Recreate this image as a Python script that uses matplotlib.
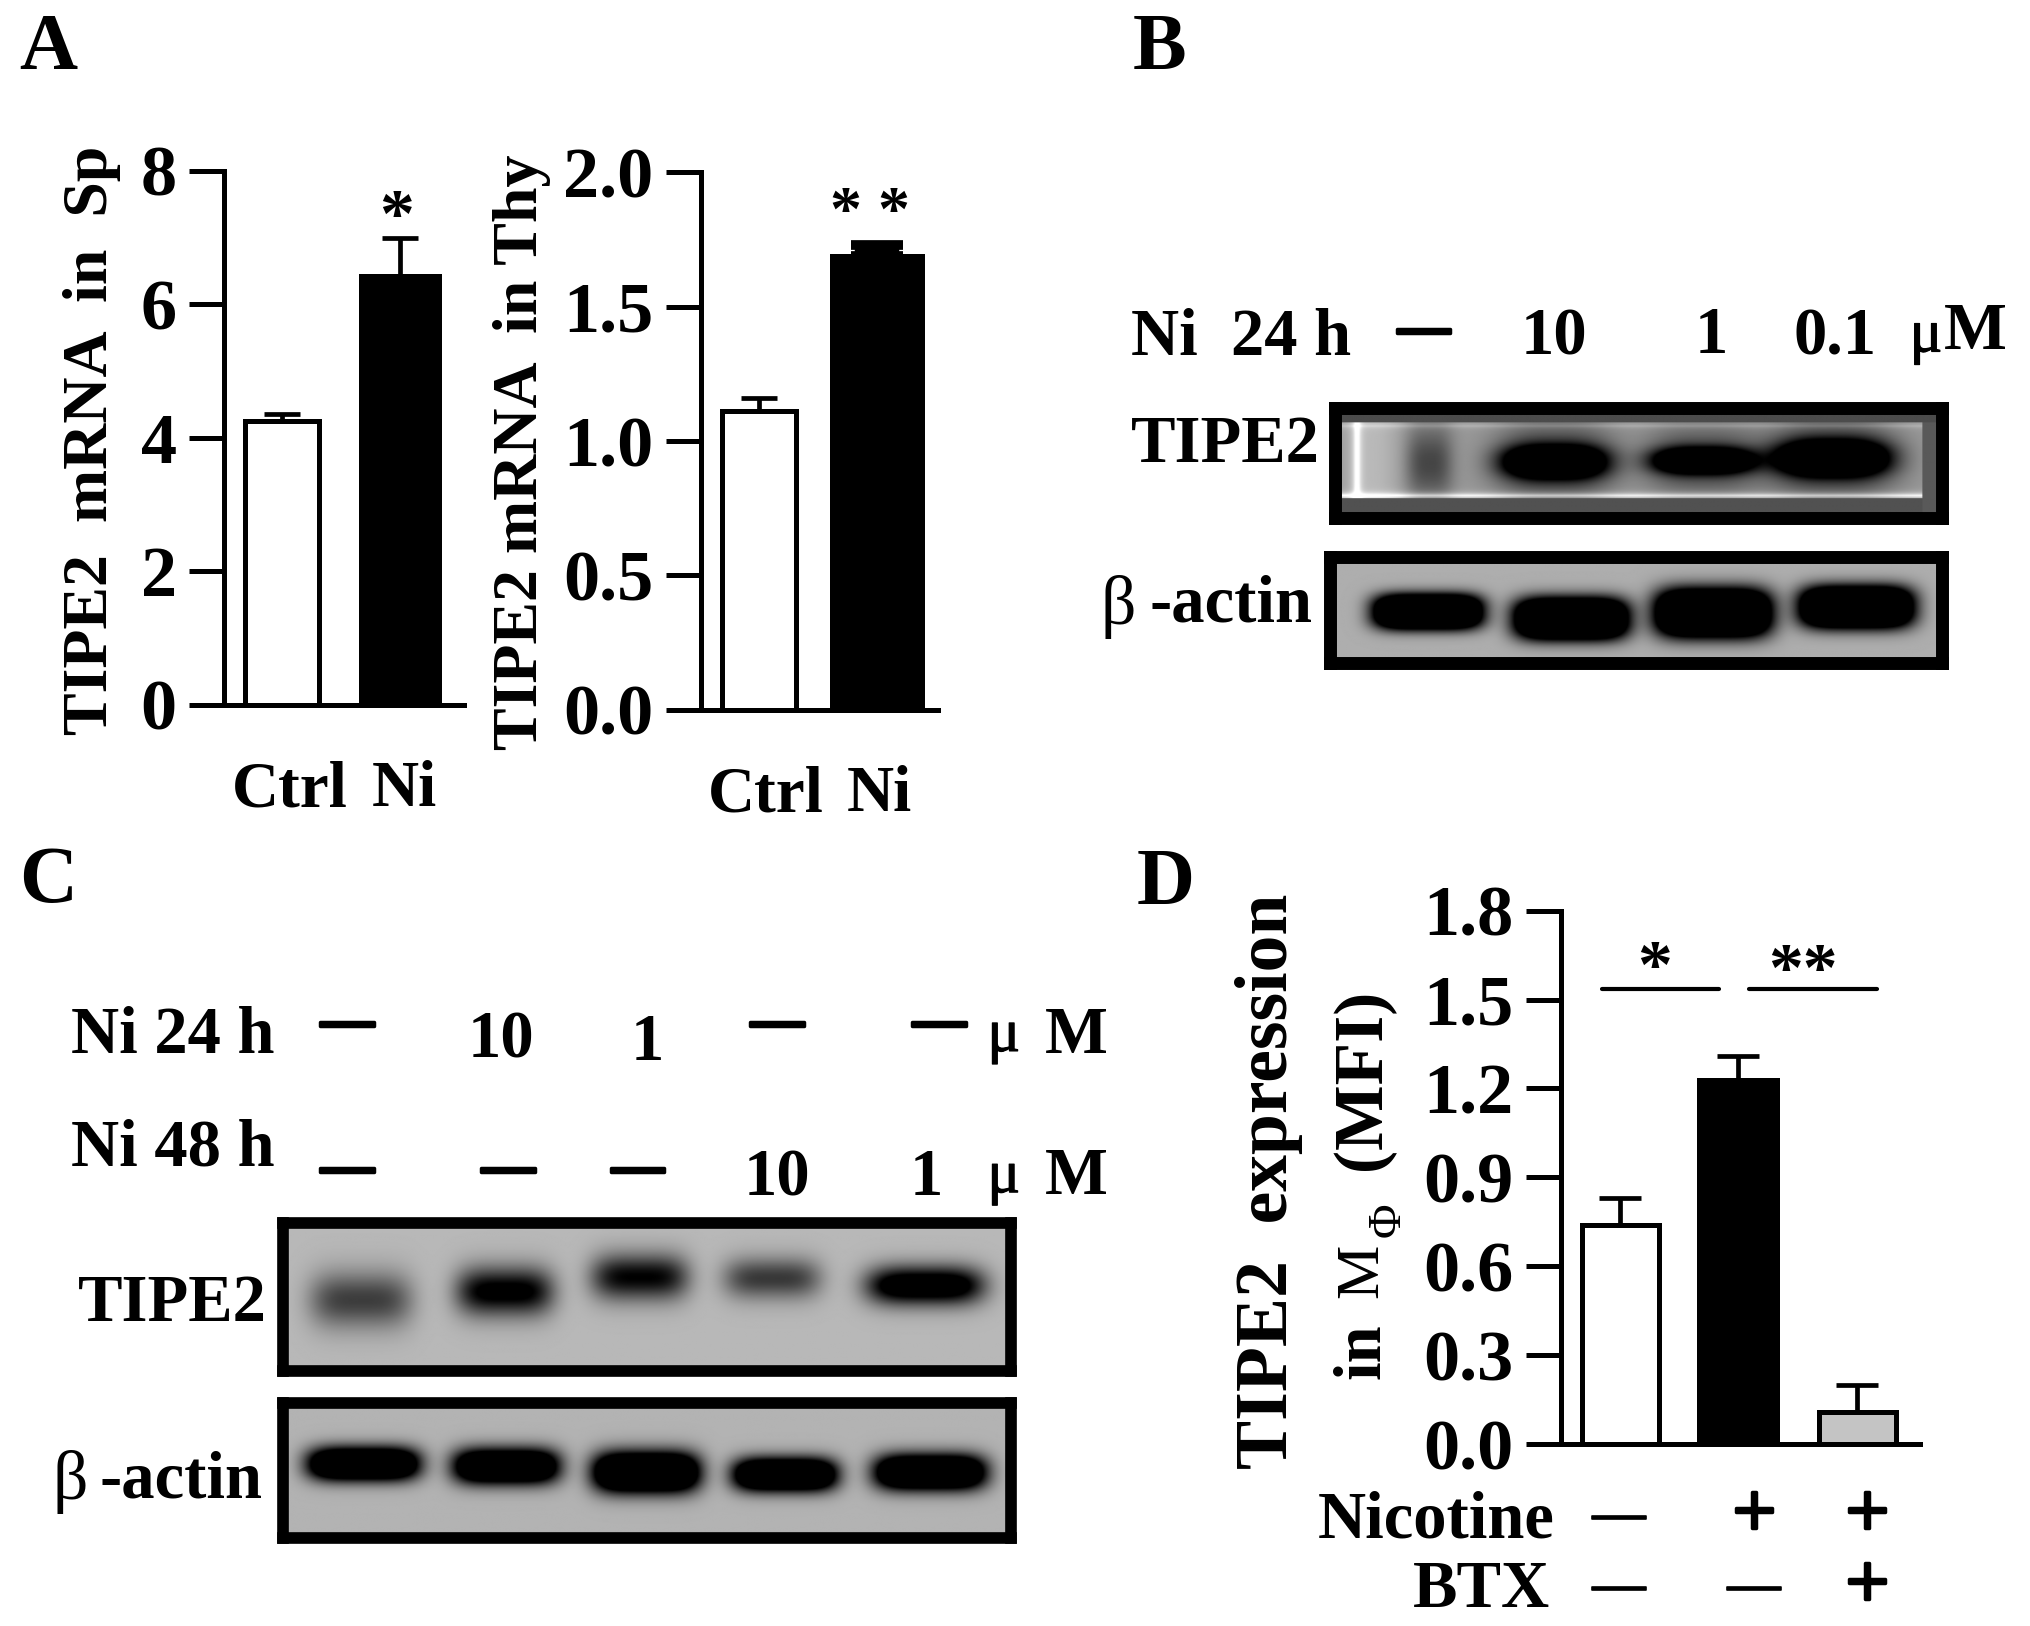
import numpy as np
import matplotlib
matplotlib.use("Agg")
import matplotlib.pyplot as plt
import matplotlib.patheffects as pe

plt.rcParams['font.family'] = ['Liberation Serif', 'DejaVu Serif']

# ---------- chart values ----------
SP_CATS = ['Ctrl', 'Ni']
SP_VALUES = [4.25, 6.42]
SP_ERRORS = [0.10, 0.58]
SP_TICKS = [0, 2, 4, 6, 8]
SP_TICK_LABELS = ['0', '2', '4', '6', '8']

THY_CATS = ['Ctrl', 'Ni']
THY_VALUES = [1.11, 1.69]
THY_ERRORS = [0.05, 0.04]
THY_TICKS = [0.0, 0.5, 1.0, 1.5, 2.0]
THY_TICK_LABELS = ['0.0', '0.5', '1.0', '1.5', '2.0']

MFI_VALUES = [0.74, 1.23, 0.11]
MFI_ERRORS = [0.09, 0.08, 0.09]
MFI_TICKS = [0.0, 0.3, 0.6, 0.9, 1.2, 1.5, 1.8]
MFI_TICK_LABELS = ['0.0', '0.3', '0.6', '0.9', '1.2', '1.5', '1.8']
NICOTINE_SIGNS = ['—', '+', '+']
BTX_SIGNS = ['—', '—', '+']

# band strengths of the blots, one per lane
B_TIPE2_STRENGTH = [0.22, 1.05, 1.00, 1.15]
B_ACTIN_STRENGTH = [1.8, 1.8, 1.8, 1.8]
C_TIPE2_STRENGTH = [0.48, 0.80, 0.72, 0.50, 1.00]
C_ACTIN_STRENGTH = [1.5, 1.4, 1.6, 1.5, 1.5]

# ---------- layout (pixels of the 1568-wide view) ----------
S = 2031 / 1568
W, H = 2031, 1626
fig = plt.figure(figsize=(W / 100, H / 100), dpi=100, facecolor='white')
PT = 72 / 100  # points per figure pixel


def rect(x0, y0, x1, y1):
    """Axes rectangle from view coordinates (y down)."""
    return [x0 * S / W, 1 - y1 * S / H, (x1 - x0) * S / W, (y1 - y0) * S / H]


def T(x, y, s, size=48, weight='bold', ha='center', va='center', rot=0, **kw):
    return fig.text(x * S / W, 1 - y * S / H, s, fontsize=size, fontweight=weight,
                    ha=ha, va=va, rotation=rot, rotation_mode='anchor', color='black', **kw)


def thick(t, lw):
    t.set_path_effects([pe.withStroke(linewidth=lw, foreground='black')])
    return t


def dash(x, y, size=38, lw=2.5):
    return thick(T(x, y, '—', size=size), lw)


def bar_panel(x_spine, x_end, y_top, y_bot, ylim, ticks, labels, centers, widths, values,
              errors, colors, caps, capthicks, elws):
    ax = fig.add_axes(rect(x_spine, y_top, x_end, y_bot))
    ax.set_xlim(x_spine, x_end)
    ax.set_ylim(*ylim)
    ax.patch.set_alpha(0)
    for s in ('top', 'right'):
        ax.spines[s].set_visible(False)
    for s in ('left', 'bottom'):
        ax.spines[s].set_linewidth(3.6)
    ax.set_yticks(ticks, labels)
    ax.tick_params(axis='y', length=25, width=3.6, pad=9, labelsize=52)
    for lab in ax.get_yticklabels():
        lab.set_fontweight('bold')
    for c, v, e, cap, ct, lw in zip(centers, values, errors, caps, capthicks, elws):
        ax.errorbar([c], [v], yerr=[[0], [e]], fmt='none', ecolor='black',
                    elinewidth=lw, capsize=cap, capthick=ct, zorder=2)
    ax.bar(centers, values, width=widths, color=colors, edgecolor='black', linewidth=3.6, zorder=3)
    return ax


# ---------- panel A ----------
ax1 = bar_panel(173, 358, 132, 544, (0, 8), SP_TICKS, SP_TICK_LABELS, [218, 309], [57, 60],
                SP_VALUES, SP_ERRORS, ['white', 'black'], [13, 13], [3.4, 3.4], [3.4, 3.4])
ax1.set_xticks([224, 312], SP_CATS)
ax2 = bar_panel(541, 724, 133, 548, (0, 2), THY_TICKS, THY_TICK_LABELS, [586, 677], [57, 69],
                THY_VALUES, THY_ERRORS, ['white', 'black'], [13, 19], [3.4, 7], [3.4, 32])
ax2.set_xticks([591, 679], THY_CATS)
for ax in (ax1, ax2):
    ax.tick_params(axis='x', length=0, pad=40, labelsize=47)
    for lab in ax.get_xticklabels():
        lab.set_fontweight('bold')

T(71, 340, 'TIPE2  mRNA  in  Sp', size=46, rot=90)
T(403, 349, 'TIPE2 mRNA  in Thy', size=46, rot=90)
T(306, 170, '*', size=50)
T(672, 166, '* *', size=46)

T(37, 38, 'A', size=58)
T(895, 38, 'B', size=58)
T(37, 681, 'C', size=58)
T(900, 683, 'D', size=58)

# ---------- panel D ----------
ax3 = bar_panel(1205, 1482, 703, 1115, (0, 1.8), MFI_TICKS, MFI_TICK_LABELS, [1251, 1342, 1434],
                [59, 60, 59], MFI_VALUES, MFI_ERRORS, ['white', 'black', '#c4c4c4'],
                [15, 15, 15], [3.4, 3.4, 3.4], [3.4, 3.4, 3.4])
ax3.set_xticks([])
ax3.plot([1237, 1327], [1.535, 1.535], color='black', lw=3, solid_capstyle='round', zorder=4)
ax3.plot([1350, 1449], [1.535, 1.535], color='black', lw=3, solid_capstyle='round', zorder=4)

T(1277, 750, '*', size=50)
T(1392, 752, '**', size=50)
T(980, 912, 'TIPE2  expression', size=53, rot=90)
T(1052, 1043, 'in', size=48, rot=90)
T(1052, 981, 'M', size=44, weight='normal', rot=90)
T(1072, 942, 'Φ', size=34, weight='normal', rot=90)
T(1052, 833, '(MFI)', size=50, rot=90)

T(1200, 1174, 'Nicotine', ha='right')
T(1197, 1228, 'BTX', ha='right')
for x, nic, btx in zip([1250, 1354, 1441], NICOTINE_SIGNS, BTX_SIGNS):
    for y, sign in ((1171, nic), (1226, btx)):
        if sign == '+':
            thick(T(x, y, sign, size=56, weight='normal'), 2.5)
        else:
            thick(T(x, y, sign, size=38, weight='normal'), 1.2)


# ---------- blots ----------
def blot(x0, y0, x1, y1, border, bg, lanes, strengths, halo=0.0, framed=False, px=3.5, py=2.6):
    """Grey-scale film picture; lanes = (centre x, centre y, half width, half height) in view px."""
    ax = fig.add_axes(rect(x0 + border / 2, y0 + border / 2, x1 - border / 2, y1 - border / 2))
    xs = np.linspace(x0, x1, int((x1 - x0) * S))
    ys = np.linspace(y0, y1, int((y1 - y0) * S))
    X, Y = np.meshgrid(xs, ys)
    img = np.full(X.shape, bg, dtype=float)
    for (cx, cy, hw, hh), amp in zip(lanes, strengths):
        img -= amp * np.exp(-np.abs((X - cx) / hw) ** px - np.abs((Y - cy) / hh) ** py)
        if halo:
            img -= halo * min(amp * 1.5, 1) * np.exp(-np.abs((X - cx) / (hw * 1.1)) ** 3 - np.abs((Y - cy) / (hh * 2.8)) ** 2)
    if framed:
        # lighter left margin and bright inner rim of the pasted film strip
        img += 0.12 * np.exp(-((X - x0 - 30) / 22.0) ** 2)
        img += 0.55 * np.exp(-np.abs(X - (x0 + 17)) / 2.5)
        img += 0.45 * np.exp(-np.abs(Y - (y1 - 19)) / 2.0)
        img += 0.12 * np.exp(-np.abs(Y - (y0 + 16)) / 2.0)
        img = np.where(Y > y1 - 17, 0.32, img)
        img = np.where(X > x1 - 15, 0.35, img)
        img = np.where(Y < y0 + 13, 0.30, img)
    ax.imshow(np.clip(img, 0, 1), cmap='gray', vmin=0, vmax=1, aspect='auto',
              extent=(x0, x1, y1, y0), interpolation='bilinear')
    ax.set_xticks([])
    ax.set_yticks([])
    for sp in ax.spines.values():
        sp.set_linewidth(border * S * PT)
        sp.set_color('black')
    return ax


blot(1026, 310, 1504, 405, 10, 0.60,
     [(1100, 358, 18, 26), (1199, 357, 42, 14), (1316, 356, 41, 11), (1418, 354, 45, 15)],
     B_TIPE2_STRENGTH, halo=0.33, framed=True, px=3.0, py=2.2)
blot(1022, 425, 1504, 517, 10, 0.68,
     [(1099, 473, 43, 15), (1212, 479, 45, 18), (1324, 474, 46, 21), (1437, 469, 45, 18)],
     B_ACTIN_STRENGTH, px=4.5)
blot(214, 940, 785, 1063, 9, 0.72,
     [(275, 1004, 40, 23), (388, 997, 38, 20), (494, 985, 38, 19), (598, 986, 38, 17), (718, 992, 46, 16)],
     C_TIPE2_STRENGTH, px=4.0, py=2.0)
blot(214, 1079, 785, 1192, 9, 0.70,
     [(277, 1130, 44, 14), (389, 1132, 42, 15), (499, 1137, 42, 17), (608, 1139, 41, 14), (722, 1137, 44, 15)],
     C_ACTIN_STRENGTH, px=4.5, py=2.2)

# ---------- blot labels, panel B ----------
T(873, 261, 'Ni  24 h', ha='left')
dash(1099, 255)
T(1200, 261, '10')
T(1321, 260, '1')
T(1417, 261, '0.1')
thick(T(1487, 260, 'μ', size=44, weight='normal'), 0.8)
T(1525, 257, 'M')
T(946, 344, 'TIPE2')
T(863, 469, 'β', size=50, weight='normal')
T(950, 467, '-actin')

# ---------- blot labels, panel C ----------
T(55, 800, 'Ni 24 h', ha='left')
T(55, 887, 'Ni 48 h', ha='left')
for x, y in ((268, 790), (600, 790), (725, 790), (268, 903), (392, 903), (492, 903)):
    dash(x, y)
T(387, 804, '10')
T(500, 806, '1')
T(600, 910, '10')
T(715, 910, '1')
for y in (800, 909):
    thick(T(775, y, 'μ', size=44, weight='normal'), 0.8)
    T(831, y, 'M')
T(133, 1007, 'TIPE2')
T(54, 1144, 'β', size=50, weight='normal')
T(140, 1143, '-actin')

fig.savefig('out.png', dpi=100, facecolor='white')
